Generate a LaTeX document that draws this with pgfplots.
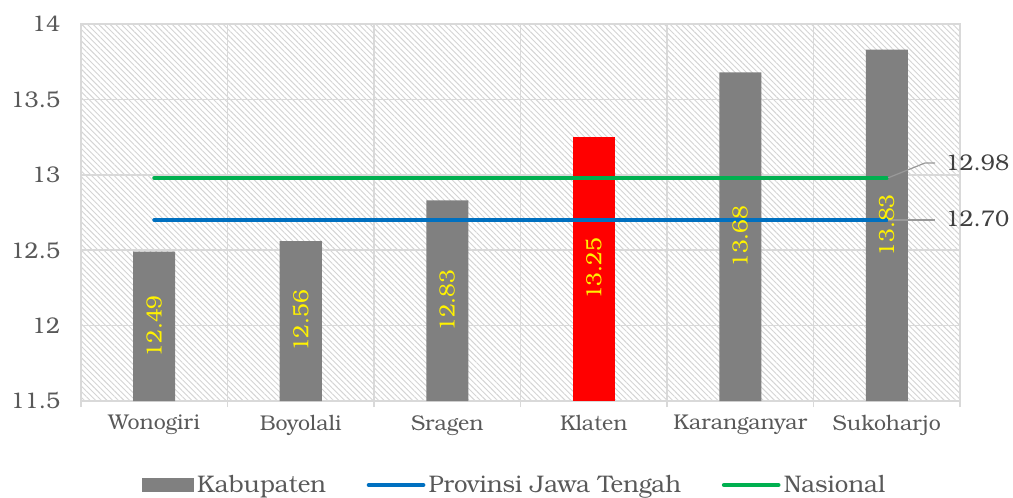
\documentclass[border=0pt]{standalone}
\usepackage{pgfplots}
\pgfplotsset{compat=1.18}
\usepackage{pgfplotstable}
\usetikzlibrary{patterns.meta}
\usepackage{fontspec}
\setmainfont{texgyrebonum-regular.otf}
\definecolor{txt}{HTML}{595959}
\definecolor{dtxt}{HTML}{404040}
\definecolor{gridc}{HTML}{D9D9D9}
\definecolor{barg}{HTML}{808080}
\definecolor{bblue}{HTML}{0070C0}
\definecolor{bgreen}{HTML}{00B050}
\pgfplotstableread{
x y
0 12.49
1 12.56
2 12.83
4 13.68
5 13.83
}\kab
\pgfplotstableread{
x y
3 13.25
}\klaten
\begin{document}
\begin{tikzpicture}
\path[use as bounding box] (-60.75pt,-72pt) rectangle (699pt,300.75pt);
\begin{axis}[
  at={(0,0)}, anchor=south west,
  scale only axis, width=659.25pt, height=282.75pt,
  xmin=-0.5, xmax=5.5, ymin=11.5, ymax=14,
  ytick={11.5,12,12.5,13,13.5,14},
  yticklabels={11.5,12,12.5,13,13.5,14},
  xtick={0,1,2,3,4,5},
  xticklabels={Wonogiri,Boyolali,Sragen,Klaten,Karanganyar,Sukoharjo},
  minor xtick={-0.5,0.5,1.5,2.5,3.5,4.5,5.5},
  major tick length=0pt,
  minor tick length=4.5pt,
  xtick pos=bottom, ytick pos=left,
  tick align=outside,
  minor tick style={gridc, line width=1.1pt},
  ymajorgrids, xminorgrids,
  grid style={gridc, line width=1.1pt},
  axis line style={gridc, line width=1.1pt},
  axis background/.style={pattern={Lines[angle=-45,distance=3pt,line width=0.7pt]}, pattern color=black!17},
  /pgf/number format/assume math mode=true,
  yticklabel style={font=\fontsize{17}{19}\selectfont, text=txt, inner sep=0pt, xshift=-15.5pt},
  xticklabel style={font=\fontsize{16}{18}\selectfont, text=txt, inner sep=0pt, yshift=-10.5pt},
  clip=false,
  legend columns=3,
  legend style={draw=none, fill=none, at={(axis description cs:0.494,0)}, anchor=center, yshift=-63pt,
    font=\fontsize{18}{20}\selectfont, text=txt,
    /tikz/every even column/.append style={column sep=28pt},
    inner sep=0pt, nodes={inner sep=2.5pt}},
]
\addplot[ybar, bar width=31.5pt, fill=barg, draw=none,
  legend image code/.code={\fill[barg] (0pt,-5.2pt) rectangle (39pt,5.2pt);},
  visualization depends on={y \as \rawy},
  nodes near coords={\pgfmathprintnumber[fixed,fixed zerofill,precision=2]{\pgfplotspointmeta}},
  every node near coord/.append style={yshift={-(\rawy-11.5)*56.55pt}, rotate=90, anchor=center, text=yellow,
    font=\fontsize{16.5}{18}\selectfont}]
  table[x=x,y=y] {\kab};
\addlegendentry{Kabupaten}
\addplot[ybar, bar width=31.5pt, fill=red, draw=none, forget plot,
  visualization depends on={y \as \rawy},
  nodes near coords={\pgfmathprintnumber[fixed,fixed zerofill,precision=2]{\pgfplotspointmeta}},
  every node near coord/.append style={yshift={-(\rawy-11.5)*56.55pt}, rotate=90, anchor=center, text=yellow,
    font=\fontsize{16.5}{18}\selectfont}]
  table[x=x,y=y] {\klaten};
\addplot[bblue, line width=3pt, line cap=round,
  legend image code/.code={\draw[bblue, line width=3pt, line cap=round] (0pt,0pt) -- (41pt,0pt);}]
  coordinates {(0,12.70) (5,12.70)};
\addlegendentry{Provinsi Jawa Tengah}
\addplot[bgreen, line width=3pt, line cap=round,
  legend image code/.code={\draw[bgreen, line width=3pt, line cap=round] (0pt,0pt) -- (41pt,0pt);}]
  coordinates {(0,12.98) (5,12.98)};
\addlegendentry{Nasional}
\draw[black!40, line width=0.9pt] (axis cs:5.01,12.98) -- (axis cs:5.26,13.078) -- (axis cs:5.33,13.078);
\draw[black!40, line width=0.9pt] (axis cs:5.01,12.70) -- (axis cs:5.33,12.70);
\node[anchor=west, inner sep=0pt, text=dtxt, font=\fontsize{17}{19}\selectfont] at (axis cs:5.40,13.078) {12.98};
\node[anchor=west, inner sep=0pt, text=dtxt, font=\fontsize{17}{19}\selectfont] at (axis cs:5.40,12.707) {12.70};
\end{axis}
\end{tikzpicture}
\end{document}
